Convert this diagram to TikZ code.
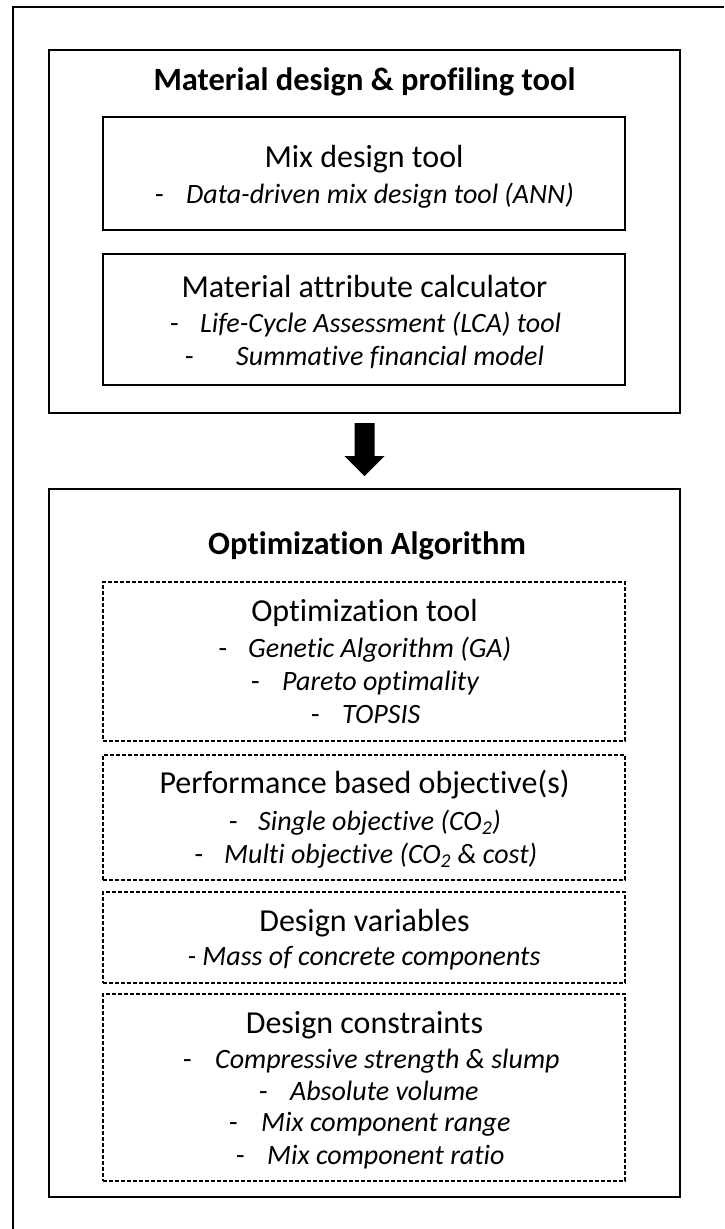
\documentclass[tikz,border=0pt]{standalone}
\usepackage{fontspec}
\setmainfont{Carlito}[Ligatures=NoCommon]
\usetikzlibrary{calc}

\tikzset{
  solidbox/.style={draw, line width=2pt, inner sep=0pt},
  dashbox/.style={draw, line width=1.5pt, dash pattern=on 4pt off 2pt, inner sep=0pt},
  head/.style={font=\fontsize{32}{38}\selectfont, inner sep=0pt, anchor=base},
  headbold/.style={font=\fontsize{32.5}{38}\selectfont\bfseries, inner sep=0pt, anchor=base},
  itemtext/.style={font=\fontsize{28}{34}\selectfont\itshape, inner sep=0pt, anchor=base west},
  itemdash/.style={font=\fontsize{28}{34}\selectfont, inner sep=0pt, anchor=base west},
}

\begin{document}
\begin{tikzpicture}[x=1pt, y=-1pt]
  \useasboundingbox (0,0) rectangle (724,1229);
  \fill[white] (0,0) rectangle (724,1229);

  % outer frame (only its left and top edges lie on the page)
  \coordinate (fbl) at (12.5,1229);
  \coordinate (ftl) at (12.5,7);
  \coordinate (ftr) at (724,7);
  \draw[line width=2pt] (fbl) -- (ftl) -- (ftr);

  % ---------- upper block ----------
  \node[solidbox, minimum width=631pt, minimum height=363pt] (matbox) at (364.5,231.5) {};
  \node[headbold] (mattitle) at (364.5,90) {Material design \& profiling tool};

  \node[solidbox, minimum width=522pt, minimum height=113pt] (mixbox) at (364,173.5) {};
  \node[head] (mixhead) at (364,167) {Mix design tool};
  \node[itemdash] (mixd1) at (155,203) {-};
  \node[itemtext] (mixt1) at (186,203) {Data-driven mix design tool (ANN)};

  \node[solidbox, minimum width=522pt, minimum height=131pt] (attrbox) at (364,319.5) {};
  \node[head] (attrhead) at (364.5,297) {Material attribute calculator};
  \node[itemdash] (attrd1) at (170,332) {-};
  \node[itemtext] (attrt1) at (200,332) {Life-Cycle Assessment (LCA) tool};
  \node[itemdash] (attrd2) at (185,365) {-};
  \node[itemtext] (attrt2) at (236,365) {Summative financial model};

  % ---------- lower block ----------
  \node[solidbox, minimum width=631pt, minimum height=708pt] (optbox) at (364.5,843) {};
  \node[headbold] (opttitle) at (367,554) {Optimization Algorithm};

  \node[dashbox, minimum width=522pt, minimum height=159pt] (toolbox) at (364,661.5) {};
  \node[head] (toolhead) at (364.5,621) {Optimization tool};
  \node[itemdash] (toold1) at (218.5,657) {-};
  \node[itemtext] (toolt1) at (248,657) {Genetic Algorithm (GA)};
  \node[itemdash] (toold2) at (251,690) {-};
  \node[itemtext] (toolt2) at (282,690) {Pareto optimality};
  \node[itemdash] (toold3) at (311,723) {-};
  \node[itemtext] (toolt3) at (342,723) {TOPSIS};

  \node[dashbox, minimum width=522pt, minimum height=125pt] (perfbox) at (364,817.5) {};
  \node[head] (perfhead) at (364.5,793) {Performance based objective(s)};
  \node[itemdash] (perfd1) at (229,830) {-};
  \node[itemtext] (perft1) at (258,830) {Single objective (CO\textsubscript{2})};
  \node[itemdash] (perfd2) at (194.5,863) {-};
  \node[itemtext] (perft2) at (224,863) {Multi objective (CO\textsubscript{2} \& cost)};

  \node[dashbox, minimum width=522pt, minimum height=91pt] (varbox) at (364,937.5) {};
  \node[head] (varhead) at (364.5,931) {Design variables};
  \node[font=\fontsize{28}{34}\selectfont\itshape, inner sep=0pt, anchor=base] (vart1) at (364,965) {- Mass of concrete components};

  \node[dashbox, minimum width=522pt, minimum height=187pt] (conbox) at (364,1087.5) {};
  \node[head] (conhead) at (364.5,1033) {Design constraints};
  \node[itemdash] (cond1) at (183,1068) {-};
  \node[itemtext] (cont1) at (215,1068) {Compressive strength \& slump};
  \node[itemdash] (cond2) at (259,1100) {-};
  \node[itemtext] (cont2) at (290,1100) {Absolute volume};
  \node[itemdash] (cond3) at (229,1131) {-};
  \node[itemtext] (cont3) at (261,1131) {Mix component range};
  \node[itemdash] (cond4) at (236,1164) {-};
  \node[itemtext] (cont4) at (267,1164) {Mix component ratio};

  % block arrow from the upper block to the lower block
  \coordinate (atop) at ($(matbox.south)+(0,9)$);
  \coordinate (atip) at ($(optbox.north)+(0,-12)$);
  \fill ($(atop)+(-10,0)$) -- ($(atop)+(10,0)$) -- ($(atip)+(10,-20)$)
        -- ($(atip)+(20,-20)$) -- (atip) -- ($(atip)+(-20,-20)$)
        -- ($(atip)+(-10,-20)$) -- cycle;
\end{tikzpicture}
\end{document}
